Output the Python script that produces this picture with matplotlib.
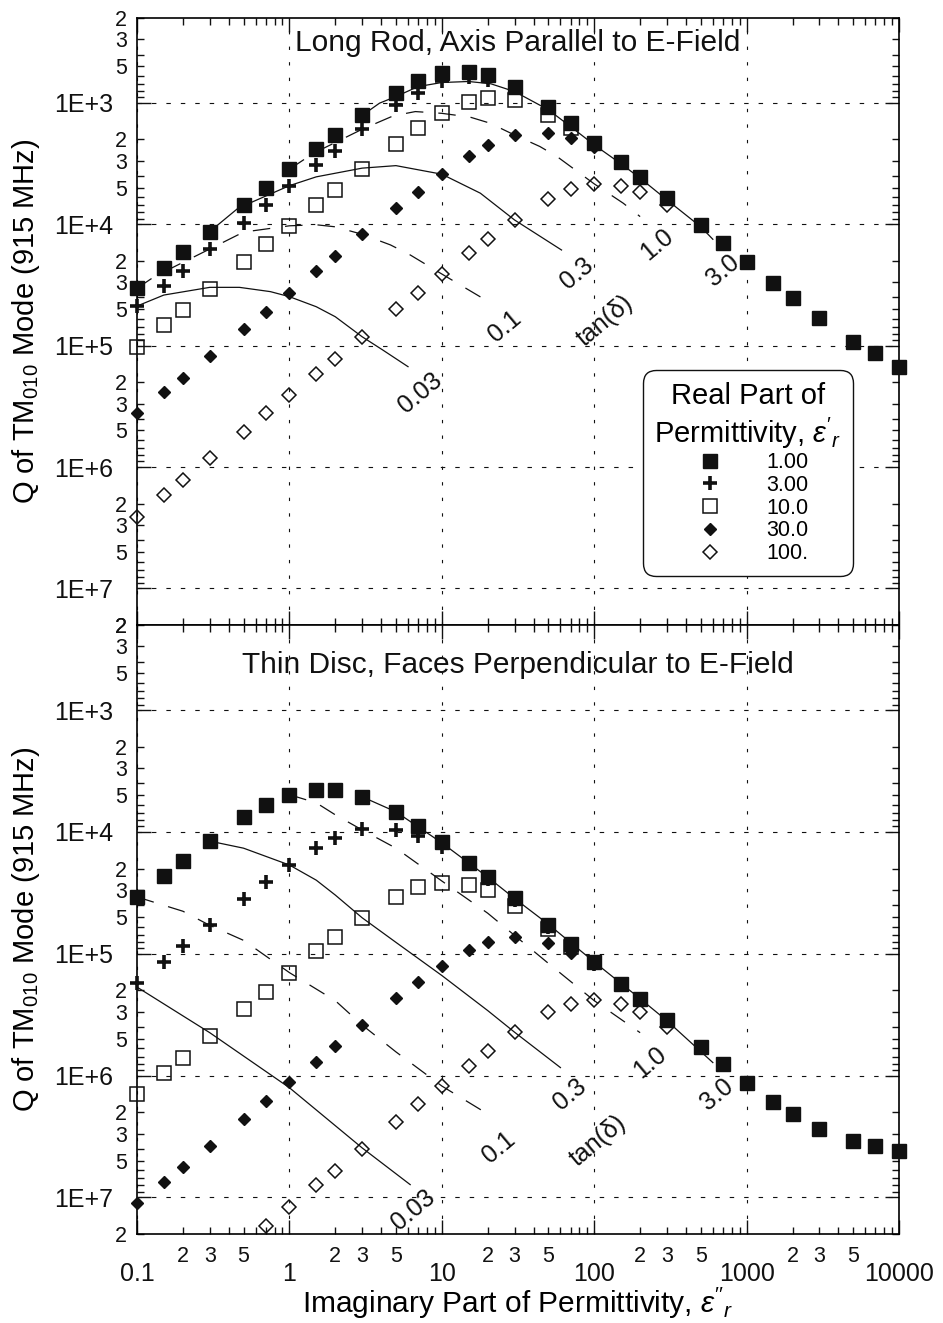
"""
Q of TM010 mode vs imaginary permittivity, rod and disc samples
"""
import numpy as np
import matplotlib
matplotlib.use("Agg")
import matplotlib.pyplot as plt
from matplotlib.ticker import LogLocator, FuncFormatter

plt.rcParams['font.family'] = ['Liberation Sans', 'DejaVu Sans']
plt.rcParams['mathtext.fontset'] = 'custom'
plt.rcParams['mathtext.rm'] = 'Liberation Sans'
plt.rcParams['mathtext.it'] = 'Liberation Sans:italic'

# imaginary part of permittivity where the samples were computed
eps_imag = [0.1, 0.15, 0.2, 0.3, 0.5, 0.7, 1, 1.5, 2, 3, 5, 7, 10, 15, 20, 30,
            50, 70, 100, 150, 200, 300, 500, 700, 1000, 1500, 2000, 3000,
            5000, 7000, 10000]
eps_real_labels = ["1.00", "3.00", "10.0", "30.0", "100."]

# long rod, axis parallel to E-field
rod_q_1 = [3.37e4, 2.28e4, 1.68e4, 1.15e4, 6.93e3, 4.99e3, 3.52e3, 2.39e3,
           1.84e3, 1.27e3, 827, 659, 569, 552, 588, 734, 1085, 1470, 2150,
           3090, 4070, 6130, 1.02e4, 1.43e4, 2.03e4, 3.06e4, 4.03e4, 5.96e4,
           9.29e4, 1.16e5, 1.49e5]
rod_q_3 = [4.72e4, 3.21e4, 2.43e4, 1.60e4, 9.7e3, 6.93e3, 4.81e3, 3.25e3,
           2.47e3, 1.65e3, 1.04e3, 832, 667, 610, 646, 760, 1110, 1500, 2190]
rod_q_10 = [1.02e5, 6.76e4, 5.09e4, 3.43e4, 2.03e4, 1.46e4, 1.03e4, 6.93e3,
            5.21e3, 3.52e3, 2.18e3, 1.60e3, 1.22e3, 976, 915, 945, 1260, 1620]
rod_q_30 = [3.61e5, 2.40e5, 1.84e5, 1.21e5, 7.29e4, 5.25e4, 3.70e4, 2.43e4,
            1.82e4, 1.21e4, 7.38e3, 5.39e3, 3.87e3, 2.72e3, 2.22e3, 1.84e3,
            1.76e3, 1.95e3, 2.29e3]
rod_q_100 = [2.58e6, 1.71e6, 1.28e6, 8.49e5, 5.13e5, 3.61e5, 2.55e5, 1.71e5,
             1.30e5, 8.45e4, 4.99e4, 3.68e4, 2.57e4, 1.71e4, 1.32e4, 9.22e3,
             6.22e3, 5.12e3, 4.65e3, 4.81e3, 5.39e3, 6.93e3]

# thin disc, faces perpendicular to E-field
disc_q_1 = [3.42e4, 2.30e4, 1.72e4, 1.18e4, 7.57e3, 5.99e3, 4.95e3, 4.51e3,
            4.57e3, 5.12e3, 6.84e3, 8.87e3, 1.21e4, 1.79e4, 2.36e4, 3.52e4,
            5.84e4, 8.27e4, 1.17e5, 1.76e5, 2.35e5, 3.48e5, 5.85e5, 8.07e5,
            1.145e6, 1.65e6, 2.08e6, 2.77e6, 3.46e6, 3.80e6, 4.13e6]
disc_q_3 = [1.75e5, 1.16e5, 8.71e4, 5.84e4, 3.57e4, 2.60e4, 1.87e4, 1.36e4,
            1.13e4, 9.50e3, 9.57e3, 1.08e4, 1.33e4, 1.85e4, 2.45e4, 3.65e4,
            6.0e4, 8.5e4, 1.21e5]
disc_q_10 = [1.41e6, 9.46e5, 7.12e5, 4.72e5, 2.84e5, 2.05e5, 1.43e5, 9.57e4,
             7.30e4, 5.09e4, 3.42e4, 2.84e4, 2.61e4, 2.71e4, 3.01e4, 4.05e4,
             6.31e4, 8.87e4]
disc_q_30 = [1.12e7, 7.50e6, 5.64e6, 3.76e6, 2.27e6, 1.62e6, 1.13e6, 7.68e5,
             5.70e5, 3.85e5, 2.32e5, 1.70e5, 1.26e5, 9.39e4, 8.02e4, 7.30e4,
             8.18e4, 9.81e4, 1.20e5]
# eps'=100 disc points start at eps''=0.7 (lower ones are off scale)
disc_q_100_start = 5
disc_q_100 = [1.71e7, 1.21e7, 7.98e6, 6.04e6, 4.05e6, 2.40e6, 1.73e6, 1.22e6,
              8.34e5, 6.27e5, 4.43e5, 3.03e5, 2.58e5, 2.39e5, 2.58e5, 2.99e5,
              4.03e5]

# constant loss tangent curves
tan_labels = ["0.03", "0.1", "0.3", "1.0", "3.0"]
rod_tan_x = [
    [0.1, 0.15, 0.3, 0.47, 0.75, 1, 1.5, 2, 3, 4.1, 6],
    [0.1, 0.13, 0.3, 0.5, 1, 1.5, 2, 3, 4.6, 6.2, 10, 17.8, 20],
    [0.3, 0.46, 1, 1.5, 3, 5, 10, 17.9, 30, 61],
    [1, 1.44, 3, 4.8, 6.7, 10, 15.3, 20.7, 30, 44, 57, 100, 155, 200],
    [3, 3.9, 5, 7, 10, 15, 21, 30, 50, 70, 100, 150, 200, 300, 500, 600],
]
rod_tan_q = [
    [4.72e4, 3.83e4, 3.31e4, 3.31e4, 3.59e4, 3.95e4, 4.78e4, 5.78e4, 8.45e4,
     1.087e5, 1.49e5],
    [3.37e4, 2.70e4, 1.60e4, 1.16e4, 1.03e4, 1.01e4, 1.05e4, 1.21e4, 1.48e4,
     1.79e4, 2.57e4, 3.95e4, 4.29e4],
    [1.15e4, 7.38e3, 4.81e3, 4.07e3, 3.45e3, 3.29e3, 3.87e3, 5.55e3, 9.22e3,
     1.63e4],
    [3.52e3, 2.60e3, 1.65e3, 1.28e3, 1.18e3, 1.22e3, 1.31e3, 1.47e3, 1.84e3,
     2.29e3, 2.77e3, 4.65e3, 6.71e3, 8.65e3],
    [1.27e3, 1.006e3, 887, 734, 680, 667, 697, 807, 1.14e3, 1.57e3, 2.22e3,
     3.18e3, 4.17e3, 6.30e3, 1.05e4, 1.33e4],
]
disc_tan_x = [
    [0.1, 0.3, 1, 3, 6.2],
    [0.1, 0.2, 0.3, 0.5, 1, 2, 3, 5, 10, 20],
    [0.3, 0.5, 1, 1.5, 2, 3, 5, 10, 20, 30, 60],
    [1, 1.5, 2, 3, 5, 10, 20, 30, 50, 100, 200],
    [3, 5, 10, 20, 30, 50, 100, 200, 300, 600],
]
disc_tan_q = [
    [1.88e5, 4.45e5, 1.26e6, 3.93e6, 7.87e6],
    [3.42e4, 4.48e4, 5.85e4, 7.77e4, 1.43e5, 2.43e5, 3.85e5, 6.4e5, 1.22e6,
     2.07e6],
    [1.19e4, 1.36e4, 1.87e4, 2.49e4, 3.3e4, 5.07e4, 8.07e4, 1.51e5, 2.93e5,
     4.41e5, 8.61e5],
    [4.95e3, 5.77e3, 7.24e3, 9.63e3, 1.36e4, 2.53e4, 4.65e4, 7.07e4, 1.20e5,
     2.43e5, 4.45e5],
    [5.15e3, 6.84e3, 1.23e4, 2.35e4, 3.52e4, 5.73e4, 1.17e5, 2.34e5, 3.55e5,
     7.83e5],
]

INK = '#111111'
MARKERS = [
    dict(marker='s', ms=9.5, mfc=INK, mec=INK),
    dict(marker='+', ms=10.5, mew=2.6, mec=INK),
    dict(marker='s', ms=9.5, mfc='none', mec=INK, mew=1.1),
    dict(marker='D', ms=6.2, mfc=INK, mec=INK),
    dict(marker='D', ms=7.2, mfc='none', mec=INK, mew=1.1),
]
TAN_STYLES = ['-', (0, (14, 12)), '-', (0, (14, 12)), '-']


def minor_label(v, pos):
    """
    label only the 2, 3 and 5 minor ticks
    """
    lead = int(round(v / 10 ** np.floor(np.log10(v) + 1e-9)))
    return str(lead) if lead in (2, 3, 5) else ''


def setup_axes(ax, show_x):
    """
    log axes, ticks and dashed decade grid
    """
    ax.set_xscale('log')
    ax.set_yscale('log')
    ax.set_xlim(0.1, 10000)
    ax.set_ylim(2e7, 2e2)
    ax.xaxis.set_major_locator(LogLocator(base=10, numticks=20))
    ax.yaxis.set_major_locator(LogLocator(base=10, numticks=20))
    ax.xaxis.set_minor_locator(LogLocator(base=10, subs=np.arange(2, 10),
                                          numticks=40))
    ax.yaxis.set_minor_locator(LogLocator(base=10, subs=np.arange(2, 10),
                                          numticks=40))
    ax.xaxis.set_major_formatter(FuncFormatter(lambda v, p: '%g' % v))
    ax.yaxis.set_major_formatter(
        FuncFormatter(lambda v, p: '1E+%d' % round(np.log10(v))))
    ax.xaxis.set_minor_formatter(FuncFormatter(minor_label))
    ax.yaxis.set_minor_formatter(FuncFormatter(minor_label))
    ax.tick_params(which='both', direction='in', top=True, right=True,
                   width=1.0, colors=INK)
    ax.tick_params(which='major', length=10, labelsize=18)
    ax.tick_params(which='minor', length=5, labelsize=15.5)
    ax.tick_params(axis='x', which='major', pad=20)
    ax.tick_params(axis='x', which='minor', pad=9)
    ax.tick_params(axis='y', which='major', pad=17)
    ax.tick_params(axis='y', which='minor', pad=7)
    if not show_x:
        ax.tick_params(axis='x', which='both', labelbottom=False)
    ax.grid(True, which='major', axis='y', color=INK, lw=0.8,
            linestyle=(0, (4, 9)))
    ax.grid(True, which='major', axis='x', color=INK, lw=0.8,
            linestyle=(0, (3, 11)))
    for side in ax.spines.values():
        side.set_linewidth(1.2)
    ax.set_ylabel(r'Q of TM$_{\mathregular{010}}$ Mode (915 MHz)', fontsize=21)
    ax.yaxis.set_label_coords(-0.125, 0.5)


def draw_panel(ax, series, tan_x, tan_q, label_pos):
    """
    markers for each eps' and the constant tan(delta) curves
    """
    for lx, lq, ls in zip(tan_x, tan_q, TAN_STYLES):
        ax.plot(lx, lq, color=INK, lw=0.9, linestyle=ls)
    handles = []
    for (start, q), style in zip(series, MARKERS):
        h, = ax.plot(eps_imag[start:start + len(q)], q, linestyle='none',
                     clip_on=False, zorder=3, **style)
        handles.append(h)
    for text, (x, y) in zip(tan_labels + ['tan(δ)'], label_pos):
        ax.text(x, y, text, rotation=40, ha='center', va='center',
                rotation_mode='anchor', fontsize=18, color=INK)
    return handles


fig = plt.figure(figsize=(9.43, 13.23), dpi=100)
ax_rod = fig.add_axes([0.1453, 0.5276, 0.8081, 0.4588])
ax_disc = fig.add_axes([0.1453, 0.0673, 0.8081, 0.4603])
setup_axes(ax_rod, False)
setup_axes(ax_disc, True)

rod_handles = draw_panel(
    ax_rod,
    [(0, rod_q_1), (0, rod_q_3), (0, rod_q_10), (0, rod_q_30), (0, rod_q_100)],
    rod_tan_x, rod_tan_q,
    [(7.2, 2.47e5), (26, 6.98e4), (77, 2.53e4), (258, 1.48e4), (703, 2.38e4),
     (118, 6.27e4)])
draw_panel(
    ax_disc,
    [(0, disc_q_1), (0, disc_q_3), (0, disc_q_10), (0, disc_q_30),
     (disc_q_100_start, disc_q_100)],
    disc_tan_x, disc_tan_q,
    [(6.5, 1.26e7), (23.5, 3.93e6), (69, 1.43e6), (232, 7.83e5), (637, 1.43e6),
     (106, 3.46e6)])

ax_rod.text(0.5, 0.958, "Long Rod, Axis Parallel to E-Field", fontsize=21.5,
            transform=ax_rod.transAxes, ha='center', va='center', color=INK)
ax_disc.text(0.5, 0.934, "Thin Disc, Faces Perpendicular to E-Field",
             fontsize=21.5, transform=ax_disc.transAxes, ha='center',
             va='center', color=INK)

ax_disc.set_xlabel("Imaginary Part of Permittivity, $\\varepsilon''_r$",
                   fontsize=21.5)
ax_disc.xaxis.set_label_coords(0.5, -0.085)

leg = ax_rod.legend(rod_handles, eps_real_labels,
                    title="Real Part of\nPermittivity, $\\varepsilon'_r$",
                    loc='upper right', bbox_to_anchor=(0.940, 0.42),
                    borderaxespad=0, fontsize=15.5, title_fontsize=21,
                    alignment='center', fancybox=True, framealpha=1,
                    edgecolor=INK, handlelength=2.1, handletextpad=1.6,
                    labelspacing=0.08, borderpad=0.55, numpoints=1)
leg.get_frame().set_linewidth(1.0)
leg.get_frame().set_boxstyle('round,pad=0,rounding_size=0.6')
leg.get_title().set_multialignment('center')

fig.savefig("out.png", dpi=100)
